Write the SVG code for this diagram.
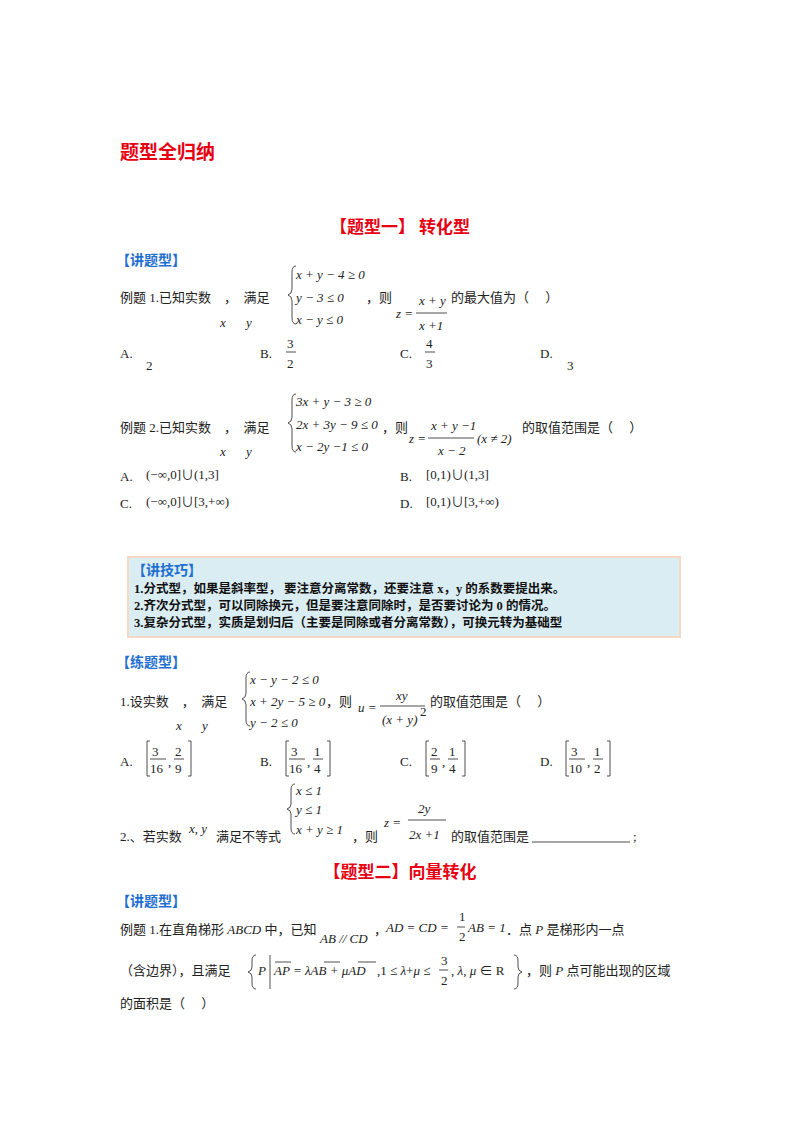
<svg xmlns="http://www.w3.org/2000/svg" width="800" height="1132" viewBox="0 0 800 1132">
<style>
.t{font-family:"Liberation Serif","Noto Sans CJK SC",serif;font-size:13px;fill:#222}
.i{font-style:italic}
.h{font-family:"Noto Sans CJK SC",sans-serif;font-weight:bold;font-size:14px;fill:#1f6fd1}
.r{font-family:"Noto Sans CJK SC",sans-serif;font-weight:bold;fill:#e60012}
.b{font-family:"Liberation Serif","Noto Sans CJK SC",serif;font-weight:bold;font-size:12.5px;fill:#111}
.l{stroke:#222;stroke-width:0.8;fill:none}
</style>
<rect width="800" height="1132" fill="#fff"/>
<text class="r" x="120" y="159" font-size="19">题型全归纳</text>
<text class="r" x="400" y="233" font-size="17" text-anchor="middle">【题型一】 转化型</text>
<text class="h" x="116" y="265">【讲题型】</text>
<!-- ex1 -->
<text class="t" x="120" y="302">例题 1.已知实数　，　满足</text>
<text class="t i" x="220" y="327">x</text><text class="t i" x="246" y="327">y</text>
<path class="l" d="M296,266 q-4,0 -4,6 v17 q0,5 -4,6 q4,1 4,6 v17 q0,6 4,6"/>
<text class="t i" x="296" y="279">x + y − 4 ≥ 0</text>
<text class="t i" x="296" y="302">y − 3 ≤ 0</text>
<text class="t i" x="296" y="324">x − y ≤ 0</text>
<text class="t" x="366" y="302">，则</text>
<text class="t i" x="396" y="318">z =</text>
<line class="l" x1="416" y1="313" x2="447" y2="313"/>
<text class="t i" x="419" y="305">x + y</text>
<text class="t i" x="419" y="330">x +1</text>
<text class="t" x="451" y="302">的最大值为（　 ）</text>
<text class="t" x="120" y="358">A.</text><text class="t" x="146" y="370">2</text>
<text class="t" x="260" y="358">B.</text><text class="t" x="287" y="348">3</text><line class="l" x1="286" y1="352" x2="296" y2="352"/><text class="t" x="287" y="368">2</text>
<text class="t" x="400" y="358">C.</text><text class="t" x="426" y="348">4</text><line class="l" x1="425" y1="352" x2="435" y2="352"/><text class="t" x="426" y="368">3</text>
<text class="t" x="540" y="358">D.</text><text class="t" x="567" y="370">3</text>
<!-- ex2 -->
<text class="t" x="120" y="432">例题 2.已知实数　，　满足</text>
<text class="t i" x="220" y="456">x</text><text class="t i" x="246" y="456">y</text>
<path class="l" d="M296,394 q-4,0 -4,6 v17 q0,5 -4,6 q4,1 4,6 v17 q0,6 4,6"/>
<text class="t i" x="296" y="406">3x + y − 3 ≥ 0</text>
<text class="t i" x="296" y="429">2x + 3y − 9 ≤ 0</text>
<text class="t i" x="296" y="451">x − 2y −1 ≤ 0</text>
<text class="t" x="382" y="432">，则</text>
<text class="t i" x="409" y="443">z =</text>
<line class="l" x1="428" y1="438" x2="474" y2="438"/>
<text class="t i" x="431" y="430">x + y −1</text>
<text class="t i" x="438" y="455">x − 2</text>
<text class="t i" x="477" y="443">(x ≠ 2)</text>
<text class="t" x="522" y="432">的取值范围是（　 ）</text>
<text class="t" x="120" y="481">A.</text><text class="t" x="146" y="479">(−∞,0]∪(1,3]</text>
<text class="t" x="400" y="481">B.</text><text class="t" x="426" y="479">[0,1)∪(1,3]</text>
<text class="t" x="120" y="508">C.</text><text class="t" x="146" y="506">(−∞,0]∪[3,+∞)</text>
<text class="t" x="400" y="508">D.</text><text class="t" x="426" y="506">[0,1)∪[3,+∞)</text>
<!-- tips box -->
<rect x="128" y="557" width="552" height="80" fill="#daedf3" stroke="#f6d9c4" stroke-width="2"/>
<text class="h" x="132" y="575" font-weight="normal">【讲技巧】</text>
<text class="b" x="134" y="593">1.分式型，如果是斜率型，  要注意分离常数，还要注意 x，y 的系数要提出来。</text>
<text class="b" x="134" y="610">2.齐次分式型，可以同除换元，但是要注意同除时，是否要讨论为 0 的情况。</text>
<text class="b" x="134" y="627">3.复杂分式型，实质是划归后（主要是同除或者分离常数），可换元转为基础型</text>
<text class="h" x="116" y="667">【练题型】</text>
<!-- p1 -->
<text class="t" x="120" y="706">1.设实数　，　满足</text>
<text class="t i" x="176" y="730">x</text><text class="t i" x="202" y="730">y</text>
<path class="l" d="M250,672 q-4,0 -4,6 v15 q0,5 -4,6 q4,1 4,6 v15 q0,6 4,6"/>
<text class="t i" x="250" y="684">x − y − 2 ≤ 0</text>
<text class="t i" x="250" y="706">x + 2y − 5 ≥ 0</text>
<text class="t i" x="250" y="727">y − 2 ≤ 0</text>
<text class="t" x="326" y="706">，则</text>
<text class="t i" x="358" y="712">u =</text>
<line class="l" x1="380" y1="706" x2="425" y2="706"/>
<text class="t i" x="396" y="700">xy</text>
<text class="t i" x="382" y="724">(x + y)</text><text class="t" x="420" y="716" font-size="8">2</text>
<text class="t" x="430" y="706">的取值范围是（　 ）</text>
<g>
<text class="t" x="120" y="766">A.</text>
<path class="l" d="M150,741 h-3 v35 h3 M188,741 h3 v35 h-3"/>
<text class="t" x="152" y="756">3</text><line class="l" x1="150" y1="759" x2="166" y2="759"/><text class="t" x="150" y="773">16</text>
<text class="t" x="168" y="766">,</text>
<text class="t" x="175" y="756">2</text><line class="l" x1="174" y1="759" x2="184" y2="759"/><text class="t" x="175" y="773">9</text>
</g>
<g>
<text class="t" x="260" y="766">B.</text>
<path class="l" d="M289,741 h-3 v35 h3 M327,741 h3 v35 h-3"/>
<text class="t" x="291" y="756">3</text><line class="l" x1="289" y1="759" x2="305" y2="759"/><text class="t" x="289" y="773">16</text>
<text class="t" x="307" y="766">,</text>
<text class="t" x="314" y="756">1</text><line class="l" x1="313" y1="759" x2="323" y2="759"/><text class="t" x="314" y="773">4</text>
</g>
<g>
<text class="t" x="400" y="766">C.</text>
<path class="l" d="M429,741 h-3 v35 h3 M462,741 h3 v35 h-3"/>
<text class="t" x="431" y="756">2</text><line class="l" x1="430" y1="759" x2="440" y2="759"/><text class="t" x="431" y="773">9</text>
<text class="t" x="442" y="766">,</text>
<text class="t" x="449" y="756">1</text><line class="l" x1="448" y1="759" x2="458" y2="759"/><text class="t" x="449" y="773">4</text>
</g>
<g>
<text class="t" x="540" y="766">D.</text>
<path class="l" d="M569,741 h-3 v35 h3 M607,741 h3 v35 h-3"/>
<text class="t" x="571" y="756">3</text><line class="l" x1="569" y1="759" x2="585" y2="759"/><text class="t" x="569" y="773">10</text>
<text class="t" x="587" y="766">,</text>
<text class="t" x="594" y="756">1</text><line class="l" x1="593" y1="759" x2="603" y2="759"/><text class="t" x="594" y="773">2</text>
</g>
<!-- p2 -->
<text class="t" x="120" y="841">2.、若实数</text>
<text class="t i" x="189" y="833">x, y</text>
<text class="t" x="216" y="841">满足不等式</text>
<path class="l" d="M295,784 q-4,0 -4,6 v14 q0,4 -4,5 q4,1 4,5 v14 q0,6 4,6"/>
<text class="t i" x="296" y="795" font-size="12">x ≤ 1</text>
<text class="t i" x="296" y="814" font-size="12">y ≤ 1</text>
<text class="t i" x="296" y="834" font-size="12">x + y ≥ 1</text>
<text class="t" x="352" y="841">，则</text>
<text class="t i" x="384" y="827" font-size="15">z =</text>
<line class="l" x1="408" y1="820" x2="446" y2="820"/>
<text class="t i" x="418" y="813" font-size="15">2y</text>
<text class="t i" x="409" y="839" font-size="15">2x +1</text>
<text class="t" x="451" y="841">的取值范围是</text>
<line class="l" x1="532" y1="842" x2="630" y2="842"/>
<text class="t" x="633" y="841">;</text>
<text class="r" x="400" y="878" font-size="17" text-anchor="middle">【题型二】向量转化</text>
<text class="h" x="116" y="906">【讲题型】</text>
<text class="t" x="120" y="934">例题 1.在直角梯形 <tspan class="i">ABCD</tspan> 中，已知</text>
<text class="t i" x="320" y="943">AB // CD</text>
<text class="t" x="374" y="934">，</text>
<text class="t i" x="386" y="932">AD = CD =</text>
<text class="t" x="459" y="921" font-size="11">1</text><line class="l" x1="457" y1="927" x2="465" y2="927"/><text class="t" x="459" y="941" font-size="11">2</text>
<text class="t i" x="468" y="932">AB = 1</text>
<text class="t" x="506" y="934">．点 <tspan class="i">P</tspan> 是梯形内一点</text>
<text class="t" x="120" y="975">（含边界），且满足</text>
<path class="l" d="M256,955 q-4,0 -4,6 v6 q0,4 -4,5 q4,1 4,5 v6 q0,6 4,6 M270,955 v34"/>
<text class="t i" x="258" y="975">P</text>
<text class="t i" x="274" y="975">AP = λAB + μAD</text>
<path class="l" d="M275,962 h16 M324,962 h16 M358,962 h18"/>
<text class="t" x="377" y="975">,1 ≤ <tspan class="i">λ</tspan>+<tspan class="i">μ</tspan> ≤</text>
<text class="t" x="441" y="965" font-size="11">3</text><line class="l" x1="439" y1="970" x2="448" y2="970"/><text class="t" x="441" y="985" font-size="11">2</text>
<text class="t" x="451" y="975">, <tspan class="i">λ</tspan>, <tspan class="i">μ</tspan> ∈ R</text>
<path class="l" d="M514,955 q4,0 4,6 v6 q0,4 4,5 q-4,1 -4,5 v6 q0,6 -4,6"/>
<text class="t" x="526" y="975">，则 <tspan class="i">P</tspan> 点可能出现的区域</text>
<text class="t" x="120" y="1008">的面积是（　 ）</text>
</svg>
